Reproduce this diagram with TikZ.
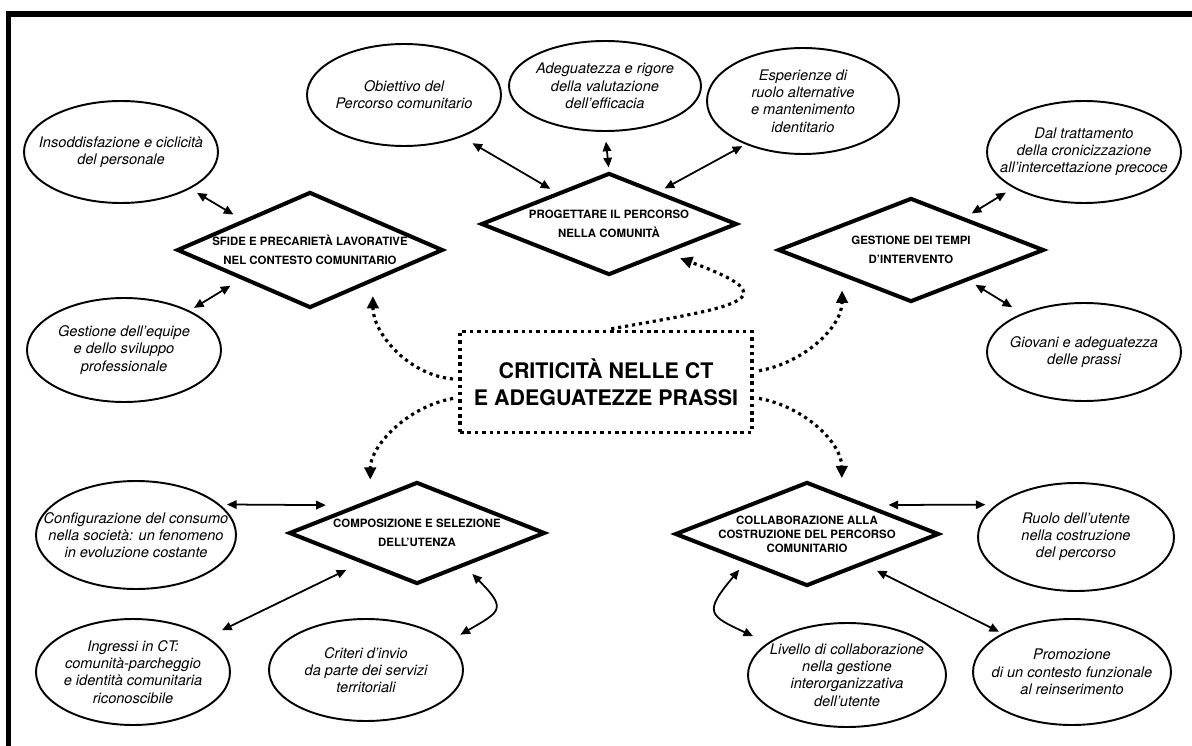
\documentclass[tikz,border=0pt]{standalone}
\usepackage{fontspec}
\setmainfont{TeX Gyre Heros}
\usepackage{tikz}
\usetikzlibrary{calc,shapes.geometric,arrows.meta}

\tikzset{
  bolla/.style={ellipse, draw, line width=1.1pt, minimum width=3.88cm, minimum height=2.04cm,
    inner sep=-15pt, align=center, font=\fontsize{8.3}{9.8}\selectfont\itshape},
  rombo/.style={diamond, draw, line width=2.3pt, inner sep=-30pt, align=center,
    font=\fontsize{6.5}{11}\selectfont\bfseries},
  titolo/.style={draw, line width=2pt, dash pattern=on 2pt off 2.2pt, minimum width=5.84cm,
    minimum height=2.02cm, align=center, font=\fontsize{12.2}{15.4}\selectfont\bfseries},
  doppia/.style={<->, >={Triangle[length=5.5pt,width=4.8pt]}, line width=1pt},
  punti/.style={->, >={Triangle[length=7pt,width=6.5pt]}, line width=1.8pt,
    dash pattern=on 1.8pt off 2.2pt, shorten <=3pt, shorten >=8pt},
}

\begin{document}
\begin{tikzpicture}[x=0.2mm,y=0.2mm]
        \useasboundingbox (0,0) rectangle (1192,-746);

        % frame (only top and left edge visible)
        \draw[line width=2.85pt] (8.5,-746) -- (8.5,-14) -- (1192,-14);

        % centre
        \node[titolo] (ct) at (606,-382) {CRITICITÀ NELLE CT\\E ADEGUATEZZE PRASSI};

        % themes
        \node[rombo, minimum width=5.32cm, minimum height=2.32cm] (sfide) at (310,-250)
            {SFIDE E PRECARIETÀ LAVORATIVE\\NEL CONTESTO COMUNITARIO};
        \node[rombo, minimum width=5.12cm, minimum height=2.04cm] (prog) at (609,-224)
            {PROGETTARE IL PERCORSO\\NELLA COMUNITÀ};
        \node[rombo, minimum width=5.32cm, minimum height=2.08cm] (tempi) at (911,-250)
            {GESTIONE DEI TEMPI\\D’INTERVENTO};
        \node[rombo, minimum width=5.12cm, minimum height=2.04cm] (comp) at (417,-533)
            {COMPOSIZIONE E SELEZIONE\\DELL’UTENZA};
        \node[rombo, minimum width=5.28cm, minimum height=2.08cm,
            font=\fontsize{6.5}{8}\selectfont\bfseries] (collab) at (807,-534)
            {COLLABORAZIONE ALLA\\COSTRUZIONE DEL PERCORSO\\COMUNITARIO};

        % sub-themes
        \node[bolla] (insodd) at (121,-152) {Insoddisfazione e ciclicità\\del personale};
        \node[bolla, minimum height=2.08cm] (equipe) at (124,-350)
            {Gestione dell’equipe\\e dello sviluppo\\professionale};
        \node[bolla] (obiett) at (404,-95) {Obiettivo del\\Percorso comunitario};
        \node[bolla, minimum width=3.84cm, minimum height=1.8cm] (adeg) at (605,-86)
            {Adeguatezza e rigore\\della valutazione\\dell’efficacia};
        \node[bolla, minimum width=3.84cm, minimum height=2.12cm] (esper) at (803,-101)
            {Esperienze di\\ruolo alternative\\e mantenimento\\identitario};
        \node[bolla] (tratt) at (1084,-152)
            {Dal trattamento\\della cronicizzazione\\all’intercettazione precoce};
        \node[bolla, minimum height=1.96cm] (giovani) at (1084,-352)
            {Giovani e adeguatezza\\delle prassi};
        \node[bolla, minimum width=4cm, minimum height=2.16cm] (config) at (136,-535)
            {Configurazione del consumo\\nella società: un fenomeno\\in evoluzione costante};
        \node[bolla, minimum height=2.12cm] (ingressi) at (133,-672)
            {Ingressi in CT:\\comunità-parcheggio\\e identità comunitaria\\riconoscibile};
        \node[bolla] (criteri) at (366,-670)
            {Criteri d’invio\\da parte dei servizi\\territoriali};
        \node[bolla, minimum width=3.96cm, minimum height=2.08cm] (livello) at (847,-675)
            {Livello di collaborazione\\nella gestione\\interorganizzativa\\dell’utente};
        \node[bolla, minimum width=3.92cm, minimum height=2.16cm] (ruolo) at (1076,-537)
            {Ruolo dell’utente\\nella costruzione\\del percorso};
        \node[bolla, minimum width=3.96cm, minimum height=2.12cm] (promoz) at (1072,-672)
            {Promozione\\di un contesto funzionale\\al reinserimento};

        % links theme <-> sub-theme
        \draw[doppia, shorten <=6pt, shorten >=4.5pt] (sfide.156) -- (insodd.-28);
        \draw[doppia, shorten <=7pt, shorten >=3pt] (sfide.203) -- (equipe.31);
        \draw[doppia, shorten <=4pt, shorten >=7pt] (prog.149) -- (obiett.-36);
        \draw[doppia, shorten <=2pt, shorten >=5.5pt] (prog.north) -- (adeg.south);
        \draw[doppia, shorten <=3.5pt, shorten >=2pt] (prog.33) -- (esper.217);
        \draw[doppia, shorten <=4.5pt, shorten >=5pt] (tempi.31) -- (tratt.207);
        \draw[doppia, shorten <=4.3pt, shorten >=6.6pt] (tempi.-28) -- (giovani.148);
        \draw[doppia, shorten <=16.5pt, shorten >=4pt] (comp.156) -- (config.20);
        \draw[doppia, shorten <=9pt, shorten >=9pt] (comp.208) -- (ingressi.25);
        \draw[doppia, shorten <=6pt, shorten >=8pt] (comp.-35) to[out=-45,in=30,looseness=2] (criteri.19);
        \draw[doppia, shorten <=5pt, shorten >=9pt] (collab.205) to[out=230,in=155,looseness=2] (livello.158);
        \draw[doppia, shorten <=11pt, shorten >=6pt] (collab.25) -- (ruolo.158);
        \draw[doppia, shorten <=7.7pt, shorten >=2pt] (collab.-28) -- (promoz.151);

        % centre -> themes
        \draw[punti] (ct.179) to[out=175,in=-90] (sfide.-27);
        \draw[punti] (ct.north) to[out=10,in=-20,looseness=3.5] (prog.-27);
        \draw[punti] (ct.4) to[out=10,in=-90] (tempi.201);
        \draw[punti, shorten >=11pt] (ct.186) to[out=190,in=90] (comp.144);
        \draw[punti, shorten >=9pt] (ct.-6) to[out=-10,in=90] (collab.49);

    \end{tikzpicture}
\end{document}
